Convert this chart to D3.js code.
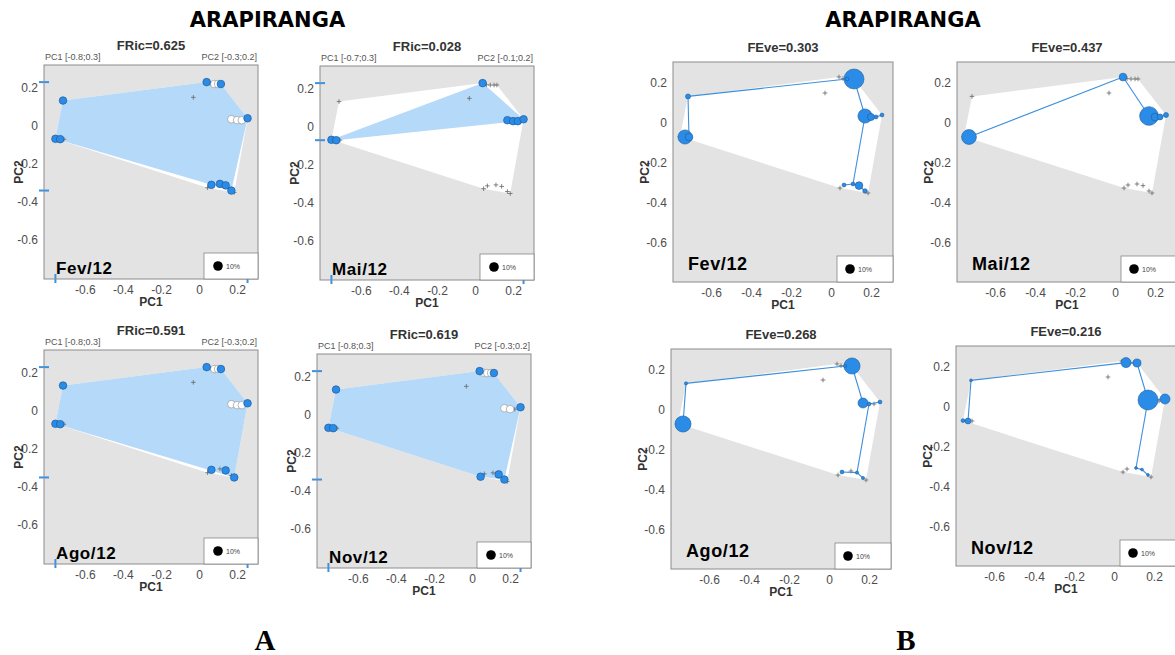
<!DOCTYPE html>
<html>
<head>
  <meta charset="utf-8">
  <title>ARAPIRANGA - FRic / FEve</title>
  <script src="https://cdn.jsdelivr.net/npm/d3@7"></script>
  <style>
    body { margin: 0; background: #fff; }
    svg { display: block; font-family: "Liberation Sans", Arial, sans-serif; }
  </style>
</head>
<body>
<svg id="chart" width="1175" height="655"></svg>

<script>
  // species positions in the functional space (PC1, PC2)
  var species = ['sp01','sp02','sp03','sp04','sp05','sp06','sp07','sp08','sp09','sp10',
                 'sp11','sp12','sp13','sp14','sp15','sp16','sp17','sp18','sp19','sp20'];
  var pc1 = [0.04, 0.06, 0.08, 0.10, 0.115, -0.715, -0.755, -0.73, -0.71, 0.17,
             0.20, 0.225, 0.255, 0.045, 0.065, 0.11, 0.14, 0.17, 0.185, -0.03];
  var pc2 = [0.23, 0.222, 0.22, 0.22, 0.22, 0.133, -0.068, -0.07, -0.07, 0.035,
             0.03, 0.03, 0.04, -0.325, -0.31, -0.305, -0.313, -0.34, -0.35, 0.15];

  var months = ['Fev/12', 'Mai/12', 'Ago/12', 'Nov/12'];
  var fricValues = ['0.625', '0.028', '0.591', '0.619'];
  var feveValues = ['0.303', '0.437', '0.268', '0.216'];
  var pc1Ranges = ['PC1 [-0.8;0.3]', 'PC1 [-0.7;0.3]', 'PC1 [-0.8;0.3]', 'PC1 [-0.8;0.3]'];
  var pc2Ranges = ['PC2 [-0.3;0.2]', 'PC2 [-0.1;0.2]', 'PC2 [-0.3;0.2]', 'PC2 [-0.3;0.2]'];

  // FRic panels: 2 = hull vertex, 1 = present inside hull, 0 = absent
  var fricFev = [2,0,1,1,2, 2,2,2,0, 1,1,1,2, 0,2,2,2,2,0, 0];
  var fricMai = [2,0,0,0,0, 0,2,2,0, 2,2,2,2, 0,0,0,0,0,0, 0];
  var fricAgo = [2,0,1,1,2, 2,2,2,0, 1,1,1,2, 0,2,0,2,0,2, 0];
  var fricNov = [2,1,1,1,2, 2,2,2,0, 1,1,0,2, 2,0,0,2,2,0, 0];

  // FEve panels: relative abundance (%)
  var abundFev = [0,0,1.5,0,40, 2.5,0,20,6, 20,5,1.5,1.5, 0,1.5,1.5,6,2,0, 0];
  var abundMai = [6,0,0,0,0, 0,0,22,0, 35,6,3.5,2.5, 0,0,0,0,0,0, 0];
  var abundAgo = [0,0,1,0,26, 1,0,26,0, 10,1.5,0,1.5, 0,1.5,0,1,1,0, 0];
  var abundNov = [0,10,0,0,6.5, 0.5,1.5,3.5,0, 40,0,0,10, 0,0,0.5,0.5,0.5,0, 0];

  var xTicks = [-0.6, -0.4, -0.2, 0, 0.2];
  var yTicks = [0.2, 0, -0.2, -0.4, -0.6];

  var fricData = [fricFev, fricMai, fricAgo, fricNov];
  var feveData = [abundFev, abundMai, abundAgo, abundNov];

  // layout
  var boxesA = [{x: 44, y: 65}, {x: 320, y: 66}, {x: 44, y: 350}, {x: 317, y: 354}];
  var boxesB = [{x: 673, y: 62}, {x: 957, y: 62}, {x: 671, y: 349}, {x: 956, y: 346}];

  var blue = '#2b8ce8', blueStroke = '#1d5c9c';
  var svg = d3.select('#chart');
  var clipId = 0;

  function fmt(d) { return String(d); }

  function hullPath(pts) {
    var h = d3.polygonHull(pts);
    return h ? 'M' + h.join('L') + 'Z' : null;
  }

  function panelBase(box, size, xDom, yDom) {
    var g = svg.append('g');
    var x = d3.scaleLinear().domain(xDom).range([box.x, box.x + size]);
    var y = d3.scaleLinear().domain(yDom).range([box.y + size, box.y]);

    var id = 'clip' + (clipId++);
    g.append('clipPath').attr('id', id)
      .append('rect').attr('x', box.x).attr('y', box.y).attr('width', size).attr('height', size);

    g.append('rect')
      .attr('x', box.x).attr('y', box.y).attr('width', size).attr('height', size)
      .attr('fill', '#e3e3e3');

    var plot = g.append('g').attr('clip-path', 'url(#' + id + ')');

    var xAxis = g.append('g')
      .attr('transform', 'translate(0,' + (box.y + size) + ')')
      .call(d3.axisBottom(x).tickValues(xTicks).tickSize(0).tickPadding(6).tickFormat(fmt));
    var yAxis = g.append('g')
      .attr('transform', 'translate(' + box.x + ',0)')
      .call(d3.axisLeft(y).tickValues(yTicks).tickSize(0).tickPadding(6).tickFormat(fmt));
    [xAxis, yAxis].forEach(function (a) {
      a.select('.domain').remove();
      a.selectAll('text')
        .style('font-family', '"Liberation Sans", Arial, sans-serif')
        .style('font-size', '12px')
        .attr('fill', '#4d4d4d');
    });

    g.append('text')
      .attr('x', box.x + size / 2).attr('y', box.y + size + 27)
      .attr('text-anchor', 'middle')
      .style('font-size', '12px').style('font-weight', 'bold').attr('fill', '#333')
      .text('PC1');

    return {g: g, plot: plot, x: x, y: y};
  }

  function finishPanel(p, box, size, month, legendW, monthSize, monthDx, monthDy, circDx) {
    p.g.append('rect')
      .attr('x', box.x).attr('y', box.y).attr('width', size).attr('height', size)
      .attr('fill', 'none').attr('stroke', '#8c8c8c').attr('stroke-width', 1);

    p.g.append('text')
      .attr('x', box.x + monthDx).attr('y', box.y + size - monthDy)
      .style('font-size', monthSize + 'px').style('font-weight', 'bold')
      .style('letter-spacing', '0.6px').attr('fill', '#000')
      .text(month);

    var lx = box.x + size - legendW, ly = box.y + size - 26;
    p.g.append('rect')
      .attr('x', lx).attr('y', ly).attr('width', legendW).attr('height', 26)
      .attr('fill', '#fff').attr('stroke', '#777').attr('stroke-width', 0.7);
    p.g.append('circle').attr('cx', lx + circDx).attr('cy', ly + 13).attr('r', 4.8).attr('fill', '#000');
    p.g.append('text')
      .attr('x', lx + circDx + 8).attr('y', ly + 15.5)
      .style('font-size', '7px').attr('fill', '#444')
      .text('10%');
  }

  function drawCrosses(plot, x, y, idx) {
    plot.selectAll('path.cross')
      .data(idx).enter().append('path')
      .attr('class', 'cross')
      .attr('d', function (k) {
        var cx = x(pc1[k]), cy = y(pc2[k]);
        return 'M' + (cx - 2.3) + ',' + cy + 'H' + (cx + 2.3) + 'M' + cx + ',' + (cy - 2.3) + 'V' + (cy + 2.3);
      })
      .attr('stroke', '#666').attr('stroke-width', 0.8);
  }

  function pageTitles() {
    [267.5, 903].forEach(function (cx) {
      svg.append('text').attr('x', cx).attr('y', 27).attr('text-anchor', 'middle')
        .style('font-family', '"DejaVu Sans", sans-serif')
        .style('font-size', '21px').style('font-weight', 'bold').text('ARAPIRANGA');
    });
    [[265, 'A'], [906, 'B']].forEach(function (d) {
      svg.append('text').attr('x', d[0]).attr('y', 650).attr('text-anchor', 'middle')
        .style('font-family', '"Liberation Serif", "Times New Roman", serif')
        .style('font-size', '29px').style('font-weight', 'bold').text(d[1]);
    });
  }

  // ---- A: functional richness ----
  function drawFric(i) {
    var box = boxesA[i], size = 214;
    var p = panelBase(box, size, [-0.815, 0.31], [-0.805, 0.32]);
    var status = fricData[i];
    var all = d3.range(species.length);
    var present = all.filter(function (k) { return status[k] > 0; });
    var absent = all.filter(function (k) { return status[k] === 0; });

    p.plot.append('path')
      .attr('d', hullPath(all.map(function (k) { return [p.x(pc1[k]), p.y(pc2[k])]; })))
      .attr('fill', '#fff');
    p.plot.append('path')
      .attr('d', hullPath(present.map(function (k) { return [p.x(pc1[k]), p.y(pc2[k])]; })))
      .attr('fill', '#b5d9f9');

    drawCrosses(p.plot, p.x, p.y, absent);

    var order = present.slice().sort(function (a, b) { return status[a] - status[b]; });
    p.plot.selectAll('circle.sp')
      .data(order).enter().append('circle')
      .attr('class', 'sp')
      .attr('cx', function (k) { return p.x(pc1[k]); })
      .attr('cy', function (k) { return p.y(pc2[k]); })
      .attr('r', 3.8)
      .attr('fill', function (k) { return status[k] === 2 ? blue : '#fff'; })
      .attr('stroke', function (k) { return status[k] === 2 ? blueStroke : '#999'; })
      .attr('stroke-width', 0.7);

    // range marks of the present species on both axes
    var ex = d3.extent(present, function (k) { return pc1[k]; });
    var ey = d3.extent(present, function (k) { return pc2[k]; });
    ex.forEach(function (v) {
      p.g.append('line')
        .attr('x1', p.x(v)).attr('x2', p.x(v))
        .attr('y1', box.y + size - 5).attr('y2', box.y + size + 4)
        .attr('stroke', '#3a92e6').attr('stroke-width', 2);
    });
    ey.forEach(function (v) {
      p.g.append('line')
        .attr('x1', box.x - 5).attr('x2', box.x + 5)
        .attr('y1', p.y(v)).attr('y2', p.y(v))
        .attr('stroke', '#3a92e6').attr('stroke-width', 2);
    });

    p.g.append('text')
      .attr('x', box.x + size / 2).attr('y', box.y - 15)
      .attr('text-anchor', 'middle')
      .style('font-size', '13px').style('font-weight', 'bold').attr('fill', '#333')
      .text('FRic=' + fricValues[i]);
    p.g.append('text')
      .attr('x', box.x + 1).attr('y', box.y - 5)
      .style('font-size', '9px').attr('fill', '#555').text(pc1Ranges[i]);
    p.g.append('text')
      .attr('x', box.x + size - 1).attr('y', box.y - 5).attr('text-anchor', 'end')
      .style('font-size', '9px').attr('fill', '#555').text(pc2Ranges[i]);
    p.g.append('text')
      .attr('transform', 'translate(' + (box.x - 25) + ',' + (box.y + size / 2) + ') rotate(-90)')
      .attr('text-anchor', 'middle').attr('dominant-baseline', 'central')
      .style('font-size', '12px').style('font-weight', 'bold').attr('fill', '#333')
      .text('PC2');

    finishPanel(p, box, size, months[i], 54, 17, 12, 5, 14);
  }

  // minimum spanning tree (Prim) over the present species
  function mst(idx) {
    var inTree = [idx[0]], rest = idx.slice(1), edges = [];
    while (rest.length) {
      var best = null;
      inTree.forEach(function (a) {
        rest.forEach(function (b) {
          var d = Math.hypot(pc1[a] - pc1[b], pc2[a] - pc2[b]);
          if (!best || d < best[2]) best = [a, b, d];
        });
      });
      edges.push(best);
      inTree.push(best[1]);
      rest.splice(rest.indexOf(best[1]), 1);
    }
    return edges;
  }

  // ---- B: functional evenness ----
  var rScale = d3.scaleSqrt().domain([0, 10]).range([0, 5]);

  function drawFeve(i) {
    var box = boxesB[i], size = 220;
    var p = panelBase(box, size, [-0.79, 0.31], [-0.795, 0.305]);
    var ab = feveData[i];
    var all = d3.range(species.length);
    var present = all.filter(function (k) { return ab[k] > 0; });
    var absent = all.filter(function (k) { return ab[k] === 0; });

    p.plot.append('path')
      .attr('d', hullPath(all.map(function (k) { return [p.x(pc1[k]), p.y(pc2[k])]; })))
      .attr('fill', '#fff');

    drawCrosses(p.plot, p.x, p.y, absent);

    p.plot.selectAll('line.mst')
      .data(mst(present)).enter().append('line')
      .attr('class', 'mst')
      .attr('x1', function (e) { return p.x(pc1[e[0]]); })
      .attr('y1', function (e) { return p.y(pc2[e[0]]); })
      .attr('x2', function (e) { return p.x(pc1[e[1]]); })
      .attr('y2', function (e) { return p.y(pc2[e[1]]); })
      .attr('stroke', '#3d8fdc').attr('stroke-width', 1.1);

    var order = present.slice().sort(function (a, b) { return ab[b] - ab[a]; });
    p.plot.selectAll('circle.sp')
      .data(order).enter().append('circle')
      .attr('class', 'sp')
      .attr('cx', function (k) { return p.x(pc1[k]); })
      .attr('cy', function (k) { return p.y(pc2[k]); })
      .attr('r', function (k) { return Math.max(1.4, rScale(ab[k])); })
      .attr('fill', blue)
      .attr('stroke', blueStroke).attr('stroke-width', 0.6);

    p.g.append('text')
      .attr('x', box.x + size / 2).attr('y', box.y - 10)
      .attr('text-anchor', 'middle')
      .style('font-size', '13px').style('font-weight', 'bold').attr('fill', '#333')
      .text('FEve=' + feveValues[i]);
    p.g.append('text')
      .attr('transform', 'translate(' + (box.x - 28) + ',' + (box.y + size / 2) + ') rotate(-90)')
      .attr('text-anchor', 'middle').attr('dominant-baseline', 'central')
      .style('font-size', '12px').style('font-weight', 'bold').attr('fill', '#333')
      .text('PC2');

    finishPanel(p, box, size, months[i], 56, 18, 15, 12, 13);
  }

  pageTitles();
  months.forEach(function (m, i) { drawFric(i); });
  months.forEach(function (m, i) { drawFeve(i); });
</script>
</body>
</html>
